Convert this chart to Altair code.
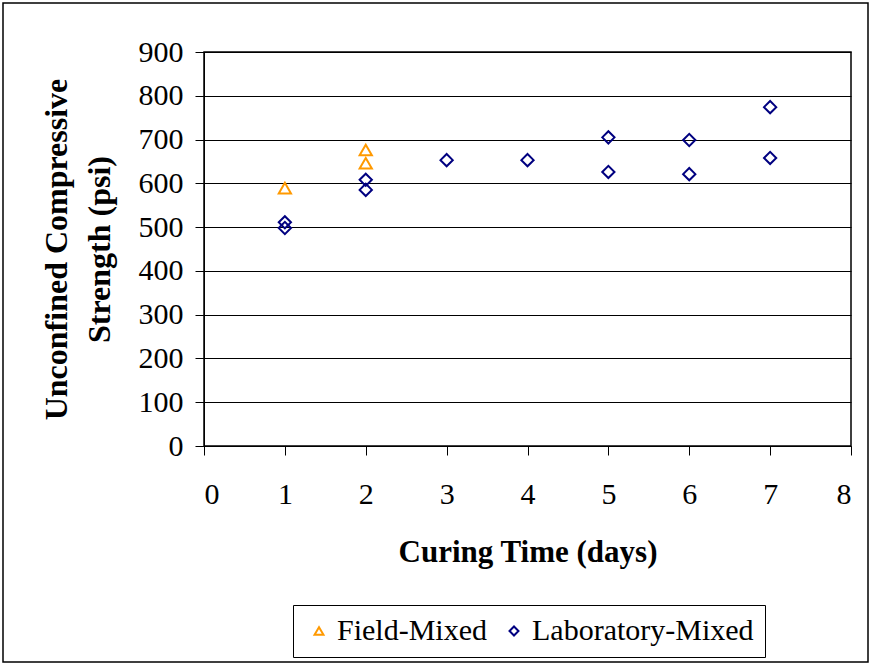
import altair as alt
import pandas as pd

field_x = [1, 2, 2]
field_y = [589, 676, 646]
lab_x = [1, 1, 2, 2, 3, 4, 5, 5, 6, 6, 7, 7]
lab_y = [511, 498, 608, 585, 653, 653, 705, 626, 699, 621, 774, 658]

rows = [{"t": x, "s": y, "g": "Field-Mixed"} for x, y in zip(field_x, field_y)]
rows += [{"t": x, "s": y, "g": "Laboratory-Mixed"} for x, y in zip(lab_x, lab_y)]
df = pd.DataFrame(rows)

FONT = "Times New Roman, Liberation Serif, serif"
W, H = 647, 394
groups = ["Field-Mixed", "Laboratory-Mixed"]

leg = alt.Legend(title=None, orient="none", direction="horizontal",
                 legendX=89, legendY=553, strokeColor="black",
                 padding=11, symbolSize=80, symbolStrokeWidth=2,
                 labelFontSize=30, labelFont=FONT, labelColor="black",
                 labelLimit=0, columnPadding=12, labelOffset=3,
                 symbolFillColor="transparent")

points = alt.Chart(df).mark_point(filled=False, strokeWidth=2, size=150, opacity=1).encode(
    x=alt.X("t:Q", scale=alt.Scale(domain=[0, 8], nice=False),
            axis=alt.Axis(title="Curing Time (days)", values=list(range(9)), grid=False,
                          tickSize=9, labelPadding=24, titlePadding=28)),
    y=alt.Y("s:Q", scale=alt.Scale(domain=[0, 900], nice=False),
            axis=alt.Axis(title=["Unconfined Compressive", "Strength (psi)"],
                          values=list(range(0, 901, 100)), grid=True,
                          tickSize=9, labelPadding=12, titlePadding=22,
                          titleLineHeight=43, titleFontSize=32)),
    color=alt.Color("g:N", scale=alt.Scale(domain=groups, range=["#FF9900", "#000080"]),
                    legend=leg),
    shape=alt.Shape("g:N", scale=alt.Scale(domain=groups, range=["triangle-up", "diamond"]),
                    legend=leg),
)

border = alt.Chart(pd.DataFrame({"a": [0]})).mark_rect(
    fill=None, stroke="black", strokeWidth=1.5, clip=False
).encode(x=alt.value(-201), x2=alt.value(W + 17), y=alt.value(-49), y2=alt.value(H + 216))

chart = alt.layer(border, points).properties(
    width=W, height=H,
    padding={"left": 204, "top": 52, "right": 19, "bottom": 217},
    autosize=alt.AutoSizeParams(type="none"),
).configure_view(stroke="black", strokeWidth=1.5).configure_axis(
    labelFont=FONT, titleFont=FONT, labelFontSize=30, titleFontSize=31,
    labelColor="black", titleColor="black", domainColor="black", tickColor="black",
    gridColor="black", gridOpacity=1, gridWidth=1, titleFontWeight="bold",
    labelFontWeight="normal",
).configure_legend(labelFont=FONT, labelFontSize=30, labelColor="black")

chart.save("out.html", embed_options={"renderer": "svg", "actions": False})
